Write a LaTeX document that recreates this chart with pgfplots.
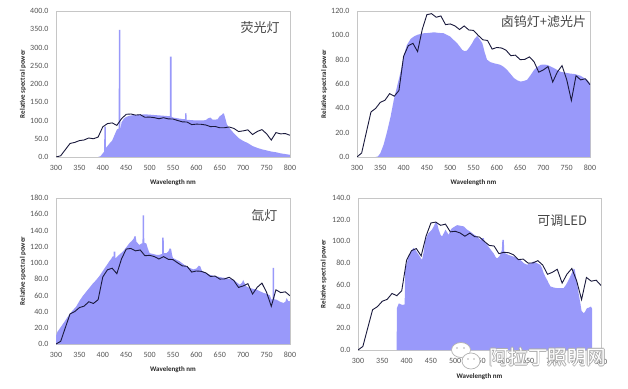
\documentclass[border=0pt]{standalone}
\usepackage{fontspec}
\setmainfont{Carlito}
\newfontfamily\cjk{Noto Sans CJK SC}
\usepackage{pgfplots}
\usepackage{pgfplotstable}
\pgfplotsset{compat=1.18}
\definecolor{lamp}{RGB}{153,153,250}
\definecolor{refline}{RGB}{25,25,60}
\definecolor{tickgray}{RGB}{85,85,85}
\definecolor{titlegray}{RGB}{70,70,70}

\tikzset{title node/.style={font=\cjk\fontsize{13}{15}\selectfont, text=titlegray}}
\pgfplotsset{
  spec/.style={
    scale only axis, anchor=south west,
    xmin=300, xmax=800, ymin=0,
    xtick={300,350,...,800},
    tick style={draw=none},
    axis line style={draw=gray!45, line width=0.6pt},
    tick label style={font=\fontsize{8}{9}\selectfont, text=tickgray},
    /pgf/number format/assume math mode=true,
    yticklabel style={/pgf/number format/fixed, /pgf/number format/fixed zerofill, /pgf/number format/precision=1, xshift=-4pt},
    xticklabel style={yshift=-5pt},
    xlabel={Wavelength nm}, ylabel={Relative spectral power},
    label style={font=\bfseries\fontsize{7}{8}\selectfont, text=black!85},
    xlabel style={at={(axis description cs:0.5,-0.178)}, anchor=center},
    ylabel style={at={(axis description cs:-0.141,0.5)}, anchor=center},
  },
}

\pgfplotstableread{
nm D65
300 0.03
310 3.29
320 20.24
330 37.05
340 39.95
350 44.91
360 46.64
370 52.09
380 49.98
390 54.65
400 82.75
410 91.49
420 93.43
430 86.68
440 104.86
450 117.01
460 117.81
470 114.86
480 115.92
490 108.81
500 109.35
510 107.80
520 104.79
530 107.69
540 104.41
550 104.05
560 100.00
570 96.33
580 95.79
590 88.69
600 90.01
610 89.60
620 87.70
630 83.29
640 83.70
650 80.03
660 80.21
670 82.28
680 78.28
690 69.72
700 71.61
710 74.35
720 61.60
730 69.89
740 75.09
750 63.59
760 46.42
770 66.81
780 63.38
790 64.30
800 59.45
}\dsixtyfive

\begin{document}
\begin{tikzpicture}
\useasboundingbox (0,0) rectangle (628pt,388pt);
\fill[white] (0,0) rectangle (628pt,388pt);

% ---------- Panel 1: fluorescent ----------
\begin{axis}[spec, at={(56pt,231pt)}, width=234pt, height=146pt,
  ymax=400, ytick={0,50,...,400}]
\addplot[fill=lamp, draw=none] coordinates {
(390,0) (395,2) (400,10) (403,15) (403.2,83) (406.6,83) (406.8,25)
(410,30) (415,38) (420,45) (425,60) (430,75) (434,78) (434.2,348) (437.6,348)
(437.8,80) (438.5,80) (440,95) (445,105) (450,110) (460,114) (470,115) (480,116)
(490,117) (500,116) (510,115) (520,114) (530,113) (540,112) (543.2,112) (543.4,275)
(546.8,275) (547,110) (550,108) (560,106) (570,104) (576,104) (576.2,120) (578.8,120)
(579,102) (590,101) (600,100) (610,100) (620,101) (625,106) (630,108) (635,102)
(645,103) (650,112) (655,116) (657,120) (659,118) (662,105) (665,90) (670,80)
(680,65) (690,52) (700,44) (710,38) (720,30) (730,25) (740,21) (750,18)
(760,15) (770,13) (780,10) (790,8) (800,6)} \closedcycle;
\addplot[refline, line width=0.9pt] table[x=nm, y=D65] {\dsixtyfive};
\node[title node] at (rel axis cs:0.872,0.884) {荧光灯};
\end{axis}

% ---------- Panel 2: halogen + filter ----------
\begin{axis}[spec, at={(357pt,231pt)}, width=233pt, height=146pt,
  ymax=120, ytick={0,20,...,120}]
\addplot[fill=lamp, draw=none] coordinates {
(340,0) (345,0.5) (350,3) (357,10) (364,20) (372,33) (379,47) (386,58) (393,69)
(400,83) (407,92) (415,97) (422,99) (430,100.5) (443,101.7) (455,102) (465,102.5)
(475,102) (486,101.7) (495,100) (500,99) (508,96) (515,93.5) (520,91) (526,88)
(531,87) (536,87.5) (541,90) (547,93.5) (552,97) (558,99.5) (563,97) (569,93.5)
(574,86) (579,80) (586,78) (594,77) (600,76.5) (608,75.7) (615,74) (622,71.6)
(630,68) (637,64.8) (644,63) (651,62) (658,62.5) (665,63.4) (672,67) (680,71.6)
(687,74) (694,75.7) (700,76) (708,75.7) (715,74.5) (723,73) (730,71.5) (737,70)
(744,69.5) (751,69) (758,68.5) (766,68.3) (773,67.5) (780,66.7) (787,65)
(794,63.4) (800,60.7)} \closedcycle;
\addplot[refline, line width=0.9pt] table[x=nm, y=D65] {\dsixtyfive};
\node[title node] at (rel axis cs:0.80,0.93) {卤钨灯+滤光片};
\end{axis}

% ---------- Panel 3: xenon ----------
\begin{axis}[spec, at={(56pt,44pt)}, width=234pt, height=146pt,
  ymax=180, ytick={0,20,...,180}]
\addplot[fill=lamp, draw=none] coordinates {
(300,10) (303,15) (308,19) (314,24) (321,30) (328,36) (335,41) (343,46) (350,53)
(357,59) (364,64) (371,69) (378,74) (386,79) (393,84) (400,90) (407,96) (414,102)
(418,105) (421,108) (423.2,108) (423.4,114) (426.6,114) (426.8,106) (428,106)
(435,110) (443,114) (450,119) (457,124.5) (462,127) (466,130) (468,133) (470,133)
(472,126) (478,122) (483,124) (484.8,124) (485,158.6) (488.4,158.6) (488.6,125)
(490,124.5) (493,124) (496,118) (500,112) (507,111) (514,110) (521,110)
(526.8,111) (527,131) (530.2,131) (530.4,112) (533,112) (536,112) (540,114)
(543,118) (546,117) (548,110) (550,106) (557,104) (564,102) (571,99) (578,96)
(585,94) (593,92) (600,93) (605,96.5) (608,96) (612,90) (621,87.5) (630,85)
(643,83.4) (654,82) (664,81.4) (671,80) (679,79.3) (686,76) (693,73) (698,76)
(700,79) (702,76) (707,71) (714,69) (721,68) (729,67) (736,65) (743,63) (750,62)
(757,60) (760,55) (762.8,55) (763,93.7) (766.2,93.7) (766.4,55) (771,54.7)
(779,52) (786,50.6) (790,52) (793,56.7) (796,53) (800,52.6)} \closedcycle;
\addplot[refline, line width=0.9pt] table[x=nm, y=D65] {\dsixtyfive};
\node[title node] at (rel axis cs:0.89,0.877) {氙灯};
\end{axis}

% ---------- Panel 4: tunable LED ----------
\begin{axis}[spec, at={(358pt,38pt)}, width=243pt, height=152pt,
  ymax=140, ytick={0,20,...,140}]
\addplot[fill=lamp, draw=none] coordinates {
(379.5,0) (380,38.5) (384,43) (388,42) (392,41.5) (396,42) (397,74) (404,86)
(409,91) (414.6,94) (420,91) (425,87.7) (431.7,83) (435,90) (438.6,101.5)
(445,107.7) (452,110.8) (456,114) (459,117) (462,118) (466,110.8) (470,106)
(473,104.6) (477,108) (480,110.8) (486.6,106) (490,110) (493,112) (500,114)
(504,115) (510,114.5) (517.5,113.8) (524,111) (531,109) (538,106.5) (545,104.6)
(552,101.5) (556,103) (558.6,103) (561,99) (565.5,97) (572,93) (579,89) (584,85)
(587,84.6) (592,87) (596,92) (597,101.5) (600,101.5) (601,90) (603,89) (610,87.5)
(620,86) (627,84.5) (634,83) (641,80) (648,78.5) (655,80) (661.5,81.5) (668,80)
(675,78.5) (679,75) (682,70.8) (686,67) (689,64.6) (693,61) (696,58.5) (703,57.5)
(709.6,57) (716,57) (723,57) (728,60) (733.5,64.6) (738,69) (741,72) (744,75)
(746,74) (750.7,61.5) (754,52) (757.5,43) (760,36) (764,34) (767,35) (771,38.5)
(775,39) (779.5,40) (781.5,38) (781.6,0)} \closedcycle;
\addplot[refline, line width=0.9pt] table[x=nm, y=D65] {\dsixtyfive};
\node[title node] at (rel axis cs:0.84,0.85) {可调LED};
\end{axis}

% ---------- watermark ----------
\begin{scope}
\filldraw[fill=white, draw=gray!60, line width=0.7pt] (461pt,38pt) ellipse (9.5pt and 7.5pt);
\filldraw[fill=white, draw=gray!60, line width=0.7pt] (471pt,27pt) ellipse (9pt and 8pt);
\fill[gray!60] (457pt,40pt) circle (0.9pt) (464pt,40pt) circle (0.9pt)
  (468pt,29pt) circle (0.8pt) (474pt,29pt) circle (0.8pt);
\foreach \dx/\dy in {0.6/0,-0.6/0,0/0.6,0/-0.6}
  \node[font=\cjk\fontsize{19.5}{21}\selectfont, text=gray!65, inner sep=0pt]
    at ([xshift=\dx pt, yshift=\dy pt]547.5pt,31pt) {阿拉丁照明网};
\node[font=\cjk\fontsize{19.5}{21}\selectfont, text=white, inner sep=0pt]
    at (547.5pt,31pt) {阿拉丁照明网};
\end{scope}
\end{tikzpicture}
\end{document}
